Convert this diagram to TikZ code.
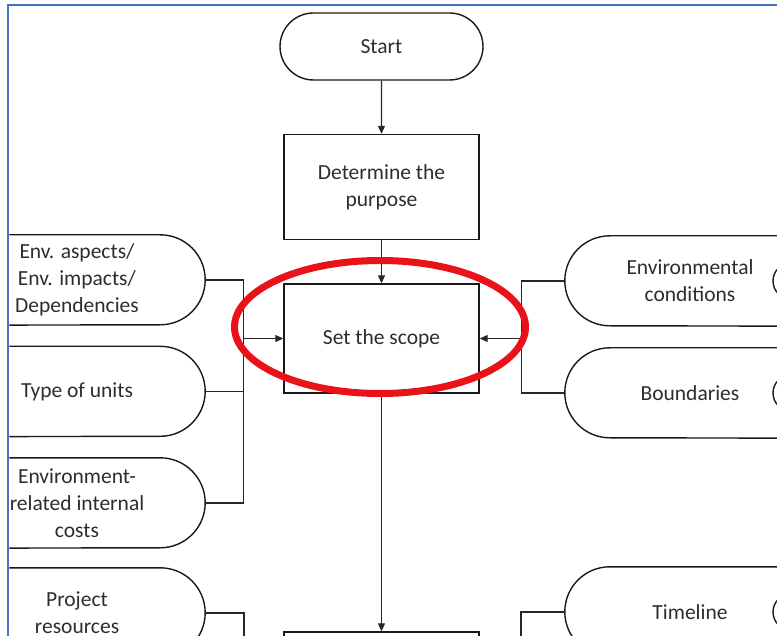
\documentclass[tikz,border=0pt]{standalone}
\usepackage{fontspec}
\setmainfont{Carlito}
\usetikzlibrary{shapes.misc,arrows.meta}
\definecolor{frameblue}{RGB}{68,114,196}
\definecolor{markred}{RGB}{232,18,24}
\definecolor{inkgray}{RGB}{45,45,45}
\begin{document}
\begin{tikzpicture}[x=1pt,y=-1pt,
  every node/.style={font=\fontsize{21.5}{27}\selectfont, text=inkgray,
    align=center, inner sep=0pt},
  outline/.style={draw=black!90, line width=1.4pt},
  stepbox/.style={outline, minimum width=195pt, minimum height=105pt},
  terminal/.style={outline, rounded rectangle, minimum width=203pt,
    minimum height=67pt},
  inputarea/.style={minimum width=256pt, minimum height=90pt},
  edgeshape/.style={outline, circle, minimum size=36pt},
  link/.style={draw=black!85, line width=1.1pt},
  flow/.style={link, -{Triangle[length=8pt,width=7pt]}}
]
\useasboundingbox (0,0) rectangle (777,636);

\begin{scope}
  \clip (9.3,6.3) rectangle (777,636);

  % main sequence
  \node[terminal] (start) at (381.5,46.5) {Start};
  \node[stepbox] (purpose) at (381.5,187) {Determine the\\purpose};
  \node[stepbox, minimum height=109pt] (scope) at (381.5,338.5) {Set the scope};
  \node[stepbox] (next) at (381.5,684.5) {};

  % inputs on the left (flat left side, round right end)
  \node[inputarea] (l1) at (77,280) {Env. aspects/\\Env. impacts/\\Dependencies};
  \node[inputarea] (l2) at (77,391.5) {Type of units};
  \node[inputarea] (l3) at (77,503) {Environment-\\related internal\\costs};
  \node[inputarea] (l4) at (77,613) {Project\\resources};
  \foreach \n in {l1,l2,l3,l4}
    \draw[outline] (\n.north west) -- ([xshift=-45pt]\n.north east)
      arc[start angle=90, end angle=-90, radius=45pt] -- (\n.south west);

  % inputs on the right (round left end, flat right side)
  \node[inputarea, minimum width=250pt] (r1) at (690,281) {Environmental\\conditions};
  \node[inputarea, minimum width=250pt] (r2) at (690,393) {Boundaries};
  \node[inputarea, minimum width=250pt] (r3) at (690,612) {Timeline};
  \foreach \n in {r1,r2,r3}
    \draw[outline] (\n.north east) -- ([xshift=45pt]\n.north west)
      arc[start angle=90, end angle=270, radius=45pt] -- (\n.south east);
  \node[edgeshape] (r1x) at (791,281) {};
  \node[edgeshape] (r2x) at (791,393) {};
  \node[edgeshape] (r3x) at (791,612) {};

  % flow arrows
  \draw[flow] (start) -- (purpose);
  \draw[flow] (purpose) -- (scope);
  \draw[flow] (scope) -- (next);

  % left collector
  \coordinate (ljoin) at ([xshift=-40pt]scope.west);
  \draw[link] (l1.east) -| (ljoin |- l3.east) -- (l3.east);
  \draw[link] (l2.east) -- (l2.east -| ljoin);
  \draw[flow] (ljoin) -- (scope.west);

  % right collector
  \coordinate (rjoin) at ([xshift=42pt]scope.east);
  \draw[link] (r1.west) -| (rjoin |- r2.west) -- (r2.west);
  \draw[flow] (rjoin) -- (scope.east);

  % lower collectors
  \coordinate (lbelow) at (244,650);
  \coordinate (rbelow) at (521,650);
  \draw[link] (l4.east) -| (lbelow);
  \draw[link] (r3.west) -| (rbelow);

  % highlight
  \draw[markred, line width=7pt] (380,327) ellipse [x radius=145.5pt, y radius=66.5pt];
\end{scope}

% page frame
\draw[frameblue, line width=2.5pt] (8,636) -- (8,5) -- (777,5);
\end{tikzpicture}
\end{document}
